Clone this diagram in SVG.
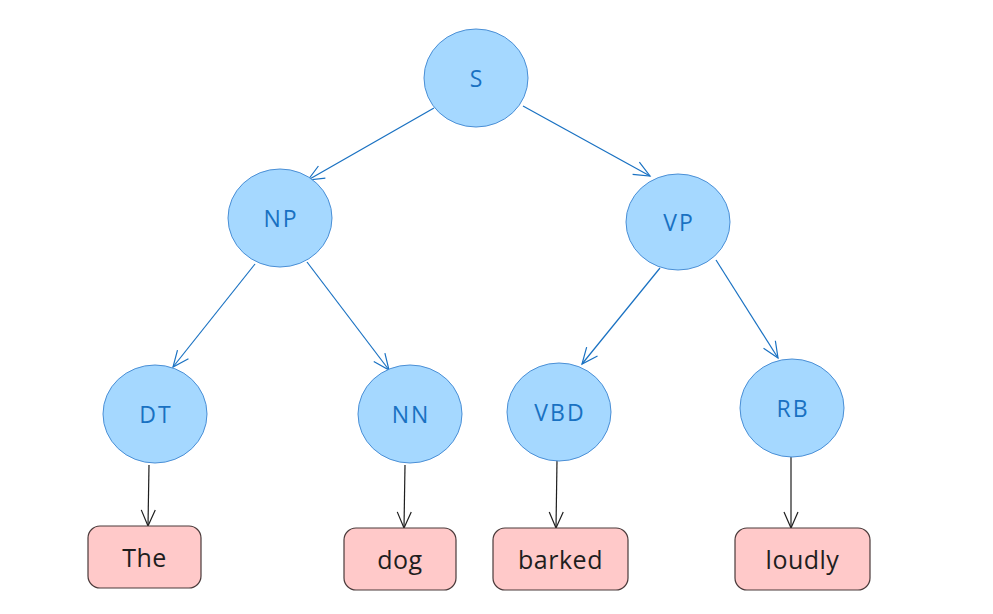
<svg xmlns="http://www.w3.org/2000/svg" width="993" height="614" viewBox="0 0 993 614">
<style>
.c{fill:#a5d8ff;stroke:#4a8fd6;stroke-width:1}
.ct{fill:#1971c2;font-family:"Open Sans","Liberation Sans",sans-serif;font-size:23px;letter-spacing:2px;text-anchor:middle;dominant-baseline:central}
.b{fill:#ffc9c9;stroke:#4a3a3a;stroke-width:1.2}
.bt{fill:#1e1e1e;font-family:"Open Sans","Liberation Sans",sans-serif;font-size:25px;letter-spacing:0.5px;text-anchor:middle;dominant-baseline:central}
.eb{fill:none;stroke:#1971c2;stroke-width:1.2}
.ek{fill:none;stroke:#1e1e1e;stroke-width:1.2}
</style>
<defs>
<marker id="ab" viewBox="0 0 20 20" refX="18" refY="10" markerWidth="20" markerHeight="20" markerUnits="userSpaceOnUse" orient="auto"><path d="M2,3 L18,10 L2,17" fill="none" stroke="#1971c2" stroke-width="1.2"/></marker>
<marker id="ak" viewBox="0 0 20 20" refX="18" refY="10" markerWidth="20" markerHeight="20" markerUnits="userSpaceOnUse" orient="auto"><path d="M2,3 L18,10 L2,17" fill="none" stroke="#1e1e1e" stroke-width="1.2"/></marker>
</defs>
<rect width="993" height="614" fill="#ffffff"/>
<g id="connectors">
<line class="eb" x1="434" y1="108" x2="308" y2="180" marker-end="url(#ab)"/>
<line class="eb" x1="523" y1="106" x2="650" y2="176" marker-end="url(#ab)"/>
<line class="eb" x1="255" y1="264" x2="173" y2="367" marker-end="url(#ab)"/>
<line class="eb" x1="307" y1="262" x2="389" y2="370" marker-end="url(#ab)"/>
<line class="eb" x1="660" y1="268" x2="582" y2="364" marker-end="url(#ab)"/>
<line class="eb" x1="716" y1="260" x2="778" y2="358" marker-end="url(#ab)"/>
<line class="ek" x1="149" y1="465" x2="148" y2="526" marker-end="url(#ak)"/>
<line class="ek" x1="405" y1="465" x2="404" y2="528" marker-end="url(#ak)"/>
<line class="ek" x1="557" y1="460" x2="556" y2="528" marker-end="url(#ak)"/>
<line class="ek" x1="791" y1="457" x2="791" y2="528" marker-end="url(#ak)"/>
</g>
<g id="S"><ellipse class="c" cx="476" cy="78" rx="52" ry="49"/><text class="ct" x="477" y="78">S</text></g>
<g id="NP"><ellipse class="c" cx="280" cy="218" rx="52" ry="49"/><text class="ct" x="281" y="218">NP</text></g>
<g id="VP"><ellipse class="c" cx="678" cy="222" rx="52" ry="48"/><text class="ct" x="679" y="222">VP</text></g>
<g id="DT"><ellipse class="c" cx="155" cy="414" rx="52" ry="49"/><text class="ct" x="156" y="414">DT</text></g>
<g id="NN"><ellipse class="c" cx="410" cy="414" rx="52" ry="49"/><text class="ct" x="411" y="414">NN</text></g>
<g id="VBD"><ellipse class="c" cx="559" cy="412" rx="52" ry="49"/><text class="ct" x="560" y="412">VBD</text></g>
<g id="RB"><ellipse class="c" cx="792" cy="408" rx="52" ry="49"/><text class="ct" x="793" y="408">RB</text></g>
<g id="The"><rect class="b" x="88" y="526" width="113" height="62" rx="12"/><text class="bt" x="144.5" y="557">The</text></g>
<g id="dog"><rect class="b" x="344" y="528" width="112" height="62" rx="12"/><text class="bt" x="400" y="559">dog</text></g>
<g id="barked"><rect class="b" x="493" y="528" width="135" height="62" rx="12"/><text class="bt" x="560.5" y="559">barked</text></g>
<g id="loudly"><rect class="b" x="735" y="528" width="135" height="62" rx="12"/><text class="bt" x="802.5" y="559">loudly</text></g>
</svg>
